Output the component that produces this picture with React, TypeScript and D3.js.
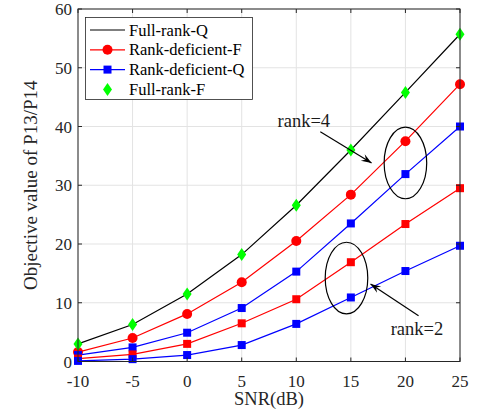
import React, { useEffect, useRef } from 'react';
import * as d3 from 'd3';

const snr = [-10, -5, 0, 5, 10, 15, 20, 25];
const fullRankQ = [3.0, 6.3, 11.5, 18.2, 26.6, 36.0, 45.8, 55.7];
const fullRankF = [3.0, 6.3, 11.5, 18.2, 26.6, 36.0, 45.8, 55.7];
const rank4F = [1.6, 4.0, 8.1, 13.5, 20.5, 28.4, 37.5, 47.2];
const rank4Q = [1.1, 2.4, 4.9, 9.1, 15.3, 23.5, 31.9, 40.0];
const rank2F = [0.5, 1.2, 3.0, 6.5, 10.6, 16.9, 23.4, 29.5];
const rank2Q = [0.1, 0.4, 1.1, 2.8, 6.4, 10.9, 15.4, 19.7];
const xTicks = [-10, -5, 0, 5, 10, 15, 20, 25];
const yTicks = [0, 10, 20, 30, 40, 50, 60];
const legendLabels = ['Full-rank-Q', 'Rank-deficient-F', 'Rank-deficient-Q', 'Full-rank-F'];

type Series = { values: number[]; color: string; marker: 'none' | 'circle' | 'square' | 'diamond'; line: boolean };

const series: Series[] = [
  { values: fullRankQ, color: '#000000', marker: 'none', line: true },
  { values: rank4F, color: '#ff0000', marker: 'circle', line: true },
  { values: rank4Q, color: '#0000ff', marker: 'square', line: true },
  { values: rank2F, color: '#ff0000', marker: 'square', line: true },
  { values: rank2Q, color: '#0000ff', marker: 'square', line: true },
  { values: fullRankF, color: '#00ff00', marker: 'diamond', line: false },
];

const legendSeries: Series[] = [series[0], series[1], series[2], series[5]];

const App = () => {
  const ref = useRef<SVGSVGElement>(null);

  useEffect(() => {
    const svg = d3.select(ref.current);
    svg.selectAll('*').remove();

    const left = 78;
    const right = 460;
    const top = 9;
    const bottom = 361.5;
    const font = "'Liberation Serif', 'Times New Roman', serif";

    const x = d3.scaleLinear().domain([-10, 25]).range([left, right]);
    const y = d3.scaleLinear().domain([0, 60]).range([bottom, top]);

    // grid
    const grid = svg.append('g').attr('stroke', '#e3e3e3').attr('stroke-width', 1);
    xTicks.forEach((t) => {
      grid.append('line').attr('x1', x(t)).attr('x2', x(t)).attr('y1', top).attr('y2', bottom);
    });
    yTicks.forEach((t) => {
      grid.append('line').attr('x1', left).attr('x2', right).attr('y1', y(t)).attr('y2', y(t));
    });

    const drawMarker = (g: any, m: string, cx: number, cy: number, color: string) => {
      if (m === 'circle') {
        g.append('circle').attr('cx', cx).attr('cy', cy).attr('r', 5).attr('fill', color);
      } else if (m === 'square') {
        g.append('rect').attr('x', cx - 4).attr('y', cy - 4).attr('width', 8).attr('height', 8).attr('fill', color);
      } else if (m === 'diamond') {
        g.append('path')
          .attr('d', `M${cx},${cy - 6.5}L${cx + 4.5},${cy}L${cx},${cy + 6.5}L${cx - 4.5},${cy}Z`)
          .attr('fill', color);
      }
    };

    const line = d3
      .line<number>()
      .x((_, i) => x(snr[i]))
      .y((d) => y(d));

    const plot = svg.append('g');
    series.forEach((s) => {
      if (s.line) {
        plot
          .append('path')
          .datum(s.values)
          .attr('fill', 'none')
          .attr('stroke', s.color)
          .attr('stroke-width', 1.2)
          .attr('d', line);
      }
      s.values.forEach((v, i) => drawMarker(plot, s.marker, x(snr[i]), y(v), s.color));
    });

    // annotations (ellipses + arrows)
    const ann = svg.append('g').attr('fill', 'none').attr('stroke', '#000').attr('stroke-width', 1.2);
    const ellipses = [
      { cx: 20, cy: 33.8, rx: 1.95, ry: 6.1 },
      { cx: 14.6, cy: 14.2, rx: 1.95, ry: 6.1 },
    ];
    ellipses.forEach((e) => {
      ann
        .append('ellipse')
        .attr('cx', x(e.cx))
        .attr('cy', y(e.cy))
        .attr('rx', x(e.cx + e.rx) - x(e.cx))
        .attr('ry', y(0) - y(e.ry));
    });
    const arrows = [
      { x1: 12.2, y1: 39.1, x2: 16.9, y2: 33.8 },
      { x1: 21.2, y1: 7.8, x2: 16.8, y2: 13.2 },
    ];
    arrows.forEach((a) => {
      const x1 = x(a.x1), y1 = y(a.y1), x2 = x(a.x2), y2 = y(a.y2);
      ann.append('line').attr('x1', x1).attr('y1', y1).attr('x2', x2).attr('y2', y2);
      const ang = Math.atan2(y2 - y1, x2 - x1);
      const len = 11;
      const w = 0.35;
      const p1 = [x2 - len * Math.cos(ang - w), y2 - len * Math.sin(ang - w)];
      const p2 = [x2 - len * Math.cos(ang + w), y2 - len * Math.sin(ang + w)];
      const pb = [x2 - len * 0.6 * Math.cos(ang), y2 - len * 0.6 * Math.sin(ang)];
      svg
        .append('path')
        .attr('d', `M${x2},${y2}L${p1[0]},${p1[1]}L${pb[0]},${pb[1]}L${p2[0]},${p2[1]}Z`)
        .attr('fill', '#000');
    });
    const labels = [
      { t: 'rank=4', x: 13.1, y: 39.9, anchor: 'end' },
      { t: 'rank=2', x: 18.65, y: 4.5, anchor: 'start' },
    ];
    labels.forEach((l) => {
      svg
        .append('text')
        .attr('x', x(l.x))
        .attr('y', y(l.y))
        .attr('text-anchor', l.anchor)
        .attr('font-family', font)
        .attr('font-size', 18.5)
        .attr('fill', '#1a1a1a')
        .text(l.t);
    });

    // axes box and ticks
    const ax = svg.append('g').attr('stroke', '#262626').attr('stroke-width', 1);
    ax.append('rect').attr('x', left).attr('y', top).attr('width', right - left).attr('height', bottom - top).attr('fill', 'none');
    const tl = 4;
    xTicks.forEach((t) => {
      ax.append('line').attr('x1', x(t)).attr('x2', x(t)).attr('y1', bottom).attr('y2', bottom - tl);
      ax.append('line').attr('x1', x(t)).attr('x2', x(t)).attr('y1', top).attr('y2', top + tl);
    });
    yTicks.forEach((t) => {
      ax.append('line').attr('x1', left).attr('x2', left + tl).attr('y1', y(t)).attr('y2', y(t));
      ax.append('line').attr('x1', right).attr('x2', right - tl).attr('y1', y(t)).attr('y2', y(t));
    });

    const txt = svg.append('g').attr('font-family', font).attr('fill', '#262626').attr('font-size', 17);
    xTicks.forEach((t) => {
      txt.append('text').attr('x', x(t)).attr('y', bottom + 25).attr('text-anchor', 'middle').text(t);
    });
    yTicks.forEach((t) => {
      txt.append('text').attr('x', left - 6).attr('y', y(t) + 6).attr('text-anchor', 'end').text(t);
    });
    txt
      .append('text')
      .attr('x', (left + right) / 2)
      .attr('y', 405)
      .attr('text-anchor', 'middle')
      .attr('font-size', 18.5)
      .text('SNR(dB)');
    txt
      .append('text')
      .attr('transform', `translate(37,${(top + bottom) / 2}) rotate(-90)`)
      .attr('text-anchor', 'middle')
      .attr('font-size', 19)
      .text('Objective value of P13/P14');

    // legend
    const lg = svg.append('g');
    lg.append('rect')
      .attr('x', 85.5)
      .attr('y', 17.5)
      .attr('width', 167)
      .attr('height', 82)
      .attr('fill', '#fff')
      .attr('stroke', '#262626')
      .attr('stroke-width', 0.8);
    legendSeries.forEach((s, i) => {
      const ly = 30 + i * 19.8;
      if (s.line) {
        lg.append('line').attr('x1', 90).attr('x2', 125).attr('y1', ly).attr('y2', ly).attr('stroke', s.color).attr('stroke-width', 1.2);
      }
      drawMarker(lg, s.marker, 107.5, ly, s.color);
      lg.append('text')
        .attr('x', 129)
        .attr('y', ly + 5.5)
        .attr('font-family', font)
        .attr('font-size', 16.5)
        .attr('fill', '#000')
        .text(legendLabels[i]);
    });
  }, []);

  return (
    <svg ref={ref} width={479} height={417} style={{ position: 'absolute', left: 0, top: 0, background: '#fff' }} />
  );
};

export default App;
